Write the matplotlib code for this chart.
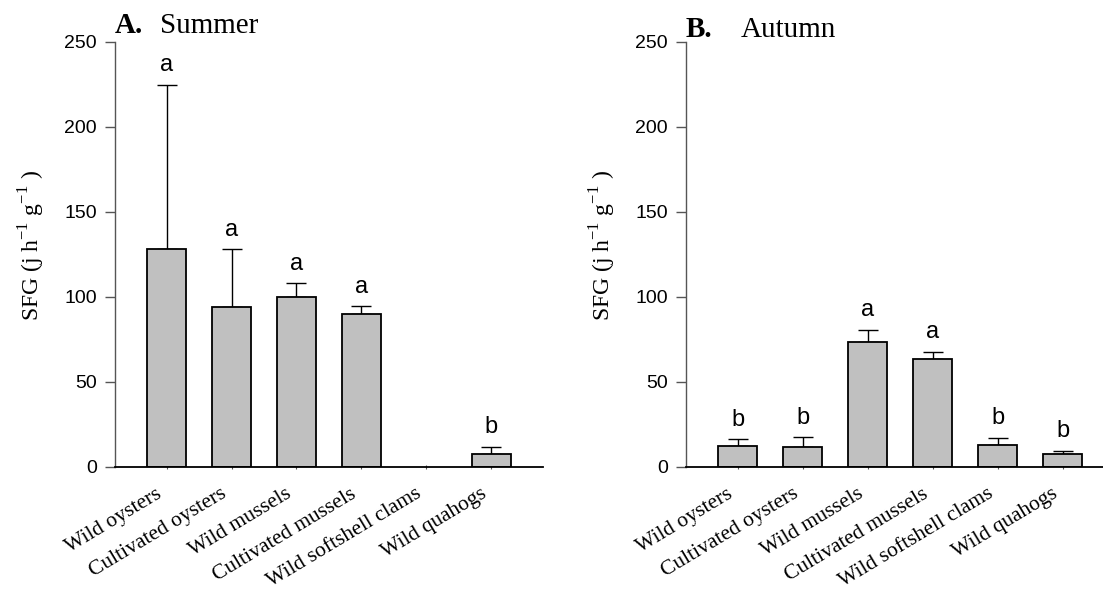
import numpy as np
import matplotlib
matplotlib.use('Agg')
import matplotlib.pyplot as plt
import matplotlib.transforms as mtrans

plt.rcParams['font.family'] = 'Liberation Sans'
plt.rcParams['mathtext.fontset'] = 'custom'
plt.rcParams['mathtext.rm'] = 'Liberation Serif'

# datos
especies = ['Wild oysters', 'Cultivated oysters', 'Wild mussels',
            'Cultivated mussels', 'Wild softshell clams', 'Wild quahogs']

verano = [128.3, 93.6, 99.9, 89.7, np.nan, 7.6]
verano_err = [96.3, 34.2, 7.9, 4.7, np.nan, 3.9]
verano_letras = ['a', 'a', 'a', 'a', '', 'b']

otono = [11.8, 11.5, 73.3, 63.1, 12.9, 7.2]
otono_err = [4.3, 5.8, 7.1, 4.3, 4.0, 2.2]
otono_letras = ['b', 'b', 'a', 'a', 'b', 'b']

paneles = [('A.', 'Summer', verano, verano_err, verano_letras),
           ('B.', 'Autumn', otono, otono_err, otono_letras)]

fig = plt.figure(figsize=(11.03, 5.94), dpi=100)
posiciones = [[0.104, 0.2146, 0.3883, 0.7152],
              [0.6218, 0.2146, 0.3886, 0.7152]]
titulo_x = [0.1048, 0.1276]
titulo_y = [1.0198, 1.0104]

x = np.arange(len(especies))
for k, (letra, estacion, val, err, sig) in enumerate(paneles):
    ax = fig.add_axes(posiciones[k])
    ax.bar(x, val, width=0.6, color='#c0c0c0', edgecolor='black', linewidth=1.3, zorder=2)
    ax.errorbar(x, val, yerr=[np.zeros(len(err)), err], fmt='none', ecolor='black',
                elinewidth=1.0, capsize=7, capthick=1.0, zorder=1)
    for i in range(len(x)):
        if sig[i]:
            ax.text(x[i], val[i] + err[i] + 8, sig[i], ha='center', va='baseline',
                    fontsize=17, family='Liberation Sans')

    ax.set_xlim(-0.8, 5.8)
    ax.set_ylim(0, 250)
    ax.set_yticks([0, 50, 100, 150, 200, 250])
    ax.tick_params(axis='y', length=7, width=1.0, color='#555555', labelsize=14, pad=6)
    ax.tick_params(axis='x', length=3, width=0.8, color='#555555', direction='inout', pad=2)
    ax.spines['top'].set_visible(False)
    ax.spines['right'].set_visible(False)
    ax.spines['left'].set_color('#555555')
    ax.spines['bottom'].set_linewidth(1.3)
    ax.spines['left'].set_linewidth(1.0)

    ax.set_xticks(x)
    ax.set_xticklabels(especies, rotation=31, ha='right', rotation_mode='anchor',
                       family='Liberation Serif', fontsize=15.5)
    desp = mtrans.ScaledTranslation(-11 / 100, -13 / 100, fig.dpi_scale_trans)
    for lab in ax.get_xticklabels():
        lab.set_transform(lab.get_transform() + desp)

    ax.set_ylabel(r'SFG (j h$^{-1}$ g$^{-1}$ )', family='Liberation Serif', fontsize=17)
    ax.yaxis.set_label_coords(-0.158, 0.52)

    ax.text(0, titulo_y[k], letra, transform=ax.transAxes, fontsize=21, fontweight='bold',
            family='Liberation Serif', ha='left', va='baseline')
    ax.text(titulo_x[k], titulo_y[k], estacion, transform=ax.transAxes, fontsize=21,
            family='Liberation Serif', ha='left', va='baseline')

plt.savefig('out.png', dpi=100)
